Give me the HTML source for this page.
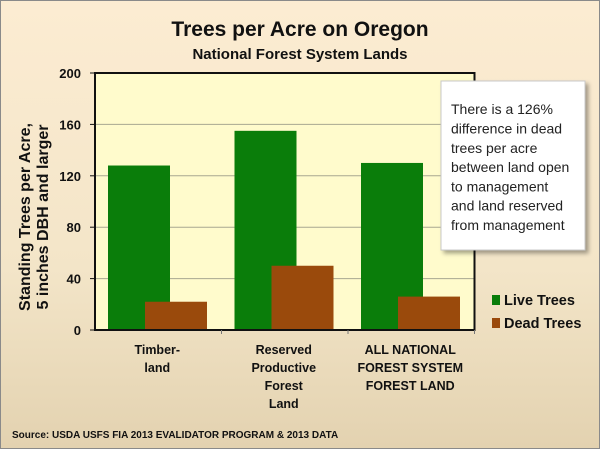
<!DOCTYPE html>
<html><head><meta charset="utf-8"><style>
html,body{margin:0;padding:0;}
body{width:600px;height:449px;overflow:hidden;font-family:"Liberation Sans",sans-serif;}
</style></head><body>
<svg width="600" height="449" xmlns="http://www.w3.org/2000/svg">
<defs>
<linearGradient id="bg" x1="0" y1="0" x2="0" y2="1">
<stop offset="0" stop-color="#fcecd2"/><stop offset="0.6" stop-color="#f3e5c8"/><stop offset="1" stop-color="#e3d2b0"/>
</linearGradient>
<filter id="sh" x="-10%" y="-10%" width="130%" height="130%"><feDropShadow dx="3" dy="3" stdDeviation="2" flood-color="#000" flood-opacity="0.35"/></filter>
</defs>
<rect x="0.5" y="0.5" width="599" height="448" fill="url(#bg)" stroke="#8a8a8a"/>
<text x="300" y="36" text-anchor="middle" font-size="21" font-weight="bold" fill="#111">Trees per Acre on Oregon</text>
<text x="300" y="59" text-anchor="middle" font-size="15" font-weight="bold" fill="#111">National Forest System Lands</text>
<rect x="95" y="73" width="379.5" height="257" fill="#fffbcc"/>
<g id="grid"></g>
<g id="bars"></g>
<rect x="95" y="73" width="379.5" height="257" fill="none" stroke="#111" stroke-width="2"/>
<g id="yticks" font-size="13" font-weight="bold" fill="#111"></g>
<g id="xlabels" font-size="12.5" font-weight="bold" fill="#111"></g>
<text transform="translate(30,217) rotate(-90)" text-anchor="middle" font-size="16" font-weight="bold" fill="#111">Standing Trees per Acre,</text>
<text transform="translate(48,217) rotate(-90)" text-anchor="middle" font-size="16" font-weight="bold" fill="#111">5 inches DBH and larger</text>
<g>
<rect x="441" y="81" width="144" height="169" fill="#fff" stroke="#c8c8c8" filter="url(#sh)"/>
<text font-size="14" fill="#222" x="451">
<tspan x="451" y="114">There is a 126%</tspan>
<tspan x="451" y="133.5">difference in dead</tspan>
<tspan x="451" y="153">trees per acre</tspan>
<tspan x="451" y="172">between land open</tspan>
<tspan x="451" y="191.5">to management</tspan>
<tspan x="451" y="210.5">and land reserved</tspan>
<tspan x="451" y="230">from management</tspan>
</text>
</g>
<g>
<rect x="492" y="295" width="8" height="10" fill="#0a7d0a"/>
<text x="504" y="305" font-size="14.5" font-weight="bold" fill="#111">Live Trees</text>
<rect x="492" y="318" width="8" height="10" fill="#9a4a0c"/>
<text x="504" y="328" font-size="14.5" font-weight="bold" fill="#111">Dead Trees</text>
</g>
<text x="12" y="438" font-size="10" font-weight="bold" fill="#111">Source: USDA USFS FIA 2013  EVALIDATOR  PROGRAM &amp; 2013  DATA</text>
</svg>
<script>
const categories = [["Timber-","land"],["Reserved","Productive","Forest","Land"],["ALL NATIONAL","FOREST SYSTEM","FOREST LAND"]];
const liveTrees = [128, 155, 130];
const deadTrees = [22, 50, 26];
const yTicks = [0, 40, 80, 120, 160, 200];
const NS = "http://www.w3.org/2000/svg";
const X0 = 95, X1 = 474.5, Y0 = 330, Y1 = 73, YMAX = 200;
function y(v){ return Y0 - (v / YMAX) * (Y0 - Y1); }
const gw = (X1 - X0) / categories.length;
function gx(i){ return X0 + i * gw; }
function mk(tag, attrs, parent){ const e = document.createElementNS(NS, tag); for (const k in attrs) e.setAttribute(k, attrs[k]); parent.appendChild(e); return e; }
const grid = document.getElementById("grid"), bars = document.getElementById("bars"), yt = document.getElementById("yticks"), xl = document.getElementById("xlabels");
yTicks.forEach(t => {
  if (t > 0 && t < YMAX) {
    const l = mk("line", {x1: X0, x2: X1, y1: y(t), y2: y(t), stroke: "#a8a890", "stroke-width": 1}, grid);
    
    
  }
  const tk = mk("line", {x1: X0 - 5, x2: X0, y1: y(t), y2: y(t), stroke: "#111", "stroke-width": 1}, yt);
  
  
  const tx = mk("text", {x: X0 - 14, y: y(t) + 5, "text-anchor": "end"}, yt);
  tx.textContent = t;
  
  
});
categories.forEach((c, i) => {
  const bw = 62;
  const lx = gx(i) + 13, dx = gx(i) + 50;
  const lb = mk("rect", {x: lx, y: y(liveTrees[i]), width: bw, height: y(0) - y(liveTrees[i]), fill: "#0a7d0a"}, bars);
  
  
  const db = mk("rect", {x: dx, y: y(deadTrees[i]), width: bw, height: y(0) - y(deadTrees[i]), fill: "#9a4a0c"}, bars);
  
  
  const tk = mk("line", {x1: gx(i + 1), x2: gx(i + 1), y1: Y0, y2: Y0 + 4, stroke: "#777"}, yt);
  
  
  const t = mk("text", {"text-anchor": "middle"}, xl);
  
  
  c.forEach((line, j) => {
    const s = mk("tspan", {x: gx(i) + gw / 2 - 1, y: 354 + j * 18}, t);
    s.textContent = line;
  });
});
</script>
</body></html>
